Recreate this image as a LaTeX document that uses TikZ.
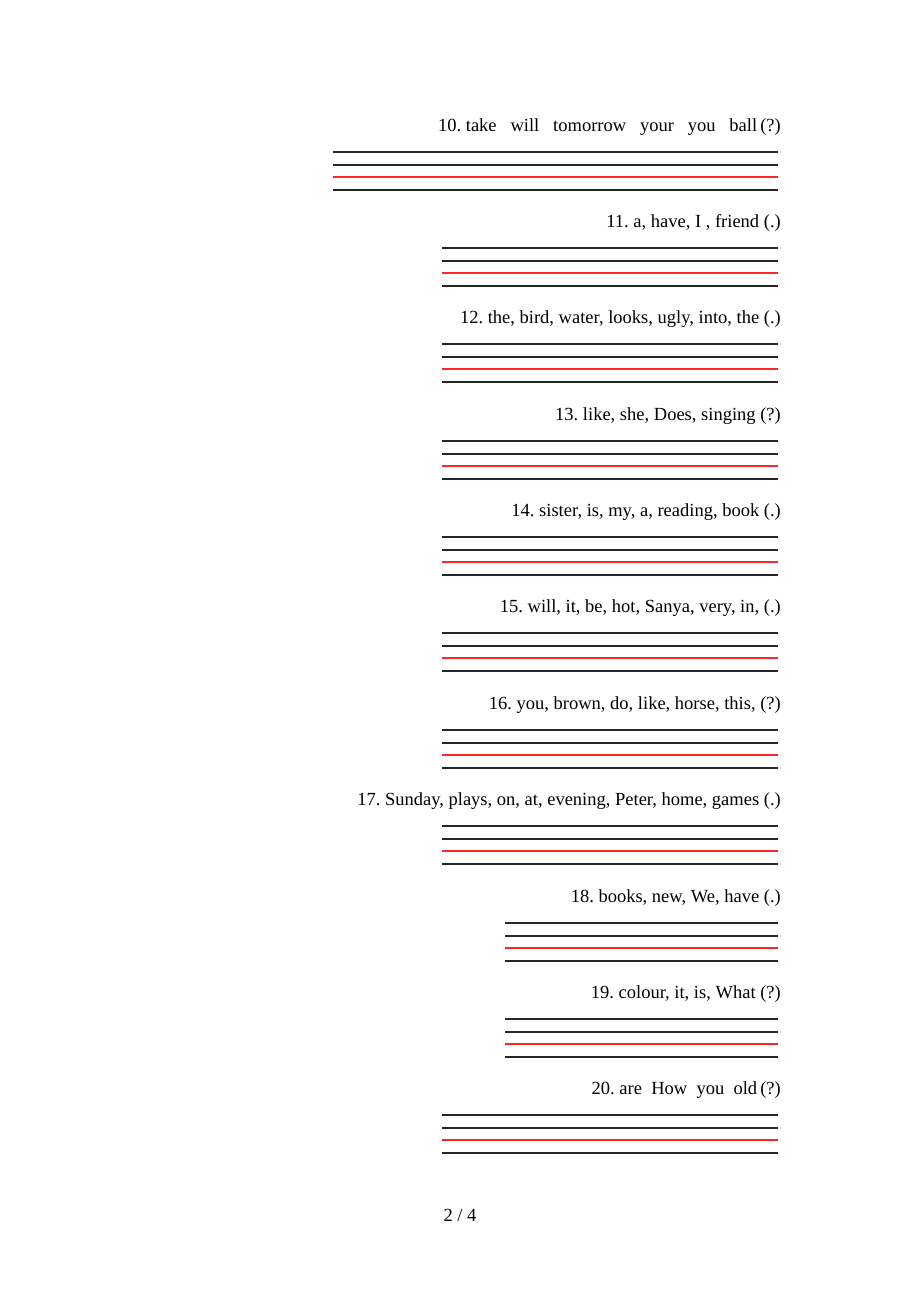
\documentclass[tikz,border=0pt]{standalone}
\usepackage{fontspec}
\setmainfont{Liberation Serif}
\frenchspacing
\begin{document}
\begin{tikzpicture}[x=1pt,y=-1pt,
    every node/.style={inner sep=0pt,font=\fontsize{18.5}{22}\selectfont},
    ink/.style={line width=1.15pt,black!85},
    redline/.style={line width=1.15pt,red!85}]
  \useasboundingbox (0,0) rectangle (920,1302);
  \foreach \k/\xl/\txt [count=\i from 0] in {
      10/333/{take\hspace{0.75em}will\hspace{0.75em}tomorrow\hspace{0.75em}your\hspace{0.75em}you\hspace{0.75em}ball\,(?)},
      11/442/{a, have, I , friend (.)},
      12/442/{the, bird, water, looks, ugly, into, the (.)},
      13/442/{like, she, Does, singing (?)},
      14/442/{sister, is, my, a, reading, book (.)},
      15/442/{will, it, be, hot, Sanya, very, in, (.)},
      16/442/{you, brown, do, like, horse, this, (?)},
      17/442/{Sunday, plays, on, at, evening, Peter, home, games (.)},
      18/505/{books, new, We, have (.)},
      19/505/{colour, it, is, What (?)},
      20/442/{are\hspace{0.5em}How\hspace{0.5em}you\hspace{0.5em}old\,(?)}}{
    \pgfmathtruncatemacro{\yt}{124+96.4*\i}
    \node[anchor=base east] (q\k) at (781,\yt+7.5) {\k. \txt};
    % four writing lines, the third one red
    \draw[ink] (\xl,\yt+28) -- (778,\yt+28);
    \draw[ink] (\xl,\yt+41) -- (778,\yt+41);
    \draw[redline] (\xl,\yt+53) -- (778,\yt+53);
    \draw[ink] (\xl,\yt+66) -- (778,\yt+66);
  }
  \node (page) at (460,1215) {2 / 4};
\end{tikzpicture}
\end{document}
